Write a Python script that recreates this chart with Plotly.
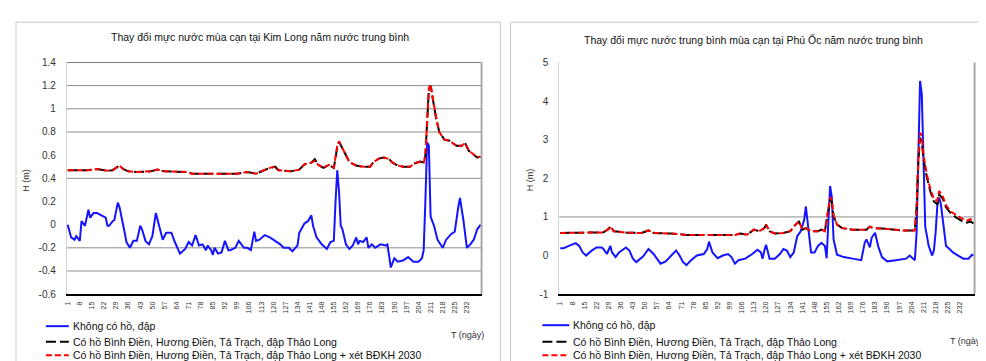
import plotly.graph_objects as go

# ---------------- DATA ----------------
x_tick_days = [1, 8, 15, 22, 29, 36, 43, 50, 57, 64, 71, 78, 85, 92, 99, 106, 113, 120,
               127, 134, 141, 148, 155, 162, 169, 176, 183, 190, 197, 204, 211, 218, 225, 232]

kl_yticks = [1.4, 1.2, 1.0, 0.8, 0.6, 0.4, 0.2, 0.0, -0.2, -0.4, -0.6]
kl_yticktext = ["1.4", "1.2", "1", "0.8", "0.6", "0.4", "0.2", "0", "-0.2", "-0.4", "-0.6"]
po_yticks = [5, 4, 3, 2, 1, 0, -1]
po_yticktext = ["5", "4", "3", "2", "1", "0", "-1"]

# Kim Long - no reservoirs (blue)
kl_blue_days = [1, 2, 3, 5, 6, 8, 9, 11, 13, 14, 16, 18, 21, 23, 24, 25, 27, 28, 30, 31,
                34, 35, 37, 39, 41, 43, 44, 46, 48, 50, 52, 54, 56, 58, 60, 61, 63, 66, 69, 71,
                73, 75, 77, 79, 81, 82, 84, 85, 86, 88, 90, 92, 94, 95, 98, 100, 103, 105, 107, 109,
                110, 112, 115, 118, 121, 124, 126, 129, 131, 134, 135, 138, 140, 142, 143, 145, 148, 151, 153, 155,
                156, 157, 158, 159, 160, 162, 164, 166, 168, 169, 170, 172, 174, 175, 177, 179, 182, 185, 186, 187,
                188, 190, 192, 195, 198, 201, 204, 206, 207, 208, 209, 210, 211, 213, 215, 218, 220, 223, 225, 227,
                228, 230, 232, 234, 236, 238, 240]
kl_blue = [0.00, -0.06, -0.11, -0.13, -0.10, -0.14, 0.03, -0.01, 0.13, 0.06, 0.10, 0.10, 0.08, 0.06, -0.01, -0.01, 0.03, 0.04, 0.19, 0.15,
           -0.07, -0.15, -0.20, -0.14, -0.14, -0.01, -0.04, -0.14, -0.17, -0.10, 0.10, -0.01, -0.13, -0.07, -0.07, -0.07, -0.15, -0.25, -0.21, -0.15,
           -0.18, -0.09, -0.18, -0.17, -0.22, -0.18, -0.22, -0.26, -0.20, -0.25, -0.24, -0.14, -0.22, -0.22, -0.20, -0.14, -0.20, -0.20, -0.22, -0.06,
           -0.14, -0.13, -0.09, -0.11, -0.14, -0.17, -0.20, -0.20, -0.23, -0.18, -0.07, 0.01, 0.03, 0.08, -0.01, -0.11, -0.17, -0.21, -0.15, -0.14,
           0.20, 0.47, 0.29, -0.01, -0.04, -0.17, -0.21, -0.18, -0.11, -0.17, -0.14, -0.15, -0.11, -0.20, -0.17, -0.20, -0.17, -0.18, -0.17, -0.29,
           -0.37, -0.29, -0.32, -0.31, -0.28, -0.32, -0.32, -0.29, -0.22, 0.21, 0.71, 0.68, 0.07, -0.01, -0.13, -0.20, -0.13, -0.08, -0.06, 0.15,
           0.23, 0.04, -0.20, -0.17, -0.13, -0.04, 0.00]

# Kim Long - with reservoirs (black) and with reservoirs + climate change 2030 (red)
kl_lake_days = [1, 3, 12, 18, 24, 27, 29, 31, 33, 36, 41, 49, 53, 57, 70, 73, 80, 99, 105, 110,
                114, 118, 121, 123, 130, 135, 138, 142, 144, 146, 149, 152, 155, 157, 158, 160, 162, 164, 168, 172,
                176, 178, 181, 184, 187, 189, 192, 195, 199, 202, 205, 207, 208, 209, 210, 211, 212, 214, 216, 219,
                222, 224, 226, 229, 231, 233, 236, 238, 240]
kl_black = [0.47, 0.47, 0.47, 0.48, 0.465, 0.47, 0.49, 0.51, 0.48, 0.46, 0.455, 0.46, 0.475, 0.46, 0.455, 0.44, 0.44, 0.44, 0.455, 0.44,
            0.465, 0.49, 0.50, 0.47, 0.46, 0.475, 0.52, 0.535, 0.566, 0.516, 0.49, 0.516, 0.49, 0.67, 0.717, 0.655, 0.60, 0.54, 0.51, 0.50,
            0.50, 0.54, 0.57, 0.58, 0.566, 0.535, 0.51, 0.50, 0.50, 0.53, 0.544, 0.535, 0.60, 0.85, 1.17, 1.20, 1.10, 0.935, 0.80, 0.734,
            0.725, 0.70, 0.68, 0.68, 0.705, 0.64, 0.60, 0.58, 0.585]
kl_red = [0.47, 0.47, 0.47, 0.48, 0.465, 0.47, 0.49, 0.51, 0.48, 0.46, 0.455, 0.46, 0.475, 0.46, 0.455, 0.44, 0.44, 0.44, 0.455, 0.44,
          0.465, 0.49, 0.50, 0.47, 0.46, 0.475, 0.52, 0.535, 0.55, 0.516, 0.49, 0.516, 0.49, 0.68, 0.72, 0.66, 0.60, 0.54, 0.51, 0.50,
          0.50, 0.54, 0.57, 0.58, 0.566, 0.535, 0.51, 0.50, 0.50, 0.53, 0.544, 0.535, 0.60, 0.86, 1.18, 1.21, 1.11, 0.94, 0.80, 0.734,
          0.725, 0.70, 0.68, 0.68, 0.705, 0.64, 0.60, 0.58, 0.585]

# Phu Oc - no reservoirs (blue)
po_blue_days = [1, 3, 6, 10, 12, 14, 16, 19, 22, 25, 26, 28, 30, 31, 33, 35, 39, 41, 43, 45,
                49, 52, 55, 59, 62, 65, 68, 70, 72, 74, 76, 80, 84, 86, 87, 89, 92, 95, 98, 100,
                102, 104, 108, 112, 115, 117, 118, 119, 120, 122, 125, 128, 130, 132, 134, 136, 138, 140, 142, 143,
                144, 146, 148, 150, 152, 154, 155, 156, 157, 158, 159, 161, 165, 170, 175, 177, 178, 180, 181, 183,
                185, 187, 190, 195, 201, 203, 205, 206, 207, 208, 209, 210, 211, 212, 214, 216, 217, 218, 219, 220,
                221, 223, 224, 226, 228, 231, 234, 237, 239, 240]
po_blue = [0.19, 0.19, 0.25, 0.32, 0.25, 0.08, 0.00, 0.12, 0.21, 0.21, 0.17, 0.04, 0.25, 0.08, -0.04, 0.08, 0.21, 0.13, -0.08, -0.17,
           -0.02, 0.17, 0.04, -0.21, -0.15, 0.00, 0.13, 0.00, -0.17, -0.25, -0.15, 0.00, 0.04, 0.17, 0.36, 0.08, -0.07, 0.00, 0.04, -0.04,
           -0.21, -0.12, -0.08, 0.04, 0.15, 0.08, -0.08, 0.13, 0.28, -0.08, -0.08, 0.04, 0.17, 0.13, -0.04, 0.08, 0.50, 0.63, 0.92, 1.27,
           0.84, 0.08, 0.08, 0.25, 0.33, 0.25, -0.07, 0.84, 1.80, 1.51, 0.42, 0.02, -0.04, -0.08, -0.12, 0.33, 0.42, 0.21, 0.46, 0.59,
           0.21, -0.04, -0.15, -0.12, -0.08, 0.00, -0.08, -0.12, 0.59, 2.76, 4.52, 4.18, 2.34, 0.75, 0.25, 0.00, 0.13, 0.60, 1.30, 1.50,
           1.34, 0.59, 0.25, 0.17, 0.08, 0.00, -0.08, -0.08, 0.02, 0.00]

# Phu Oc - with reservoirs (black) and with reservoirs + climate change 2030 (red)
po_lake_days = [1, 17, 26, 29, 30, 32, 40, 48, 52, 55, 65, 74, 94, 102, 105, 109, 113, 116, 119, 120,
                122, 125, 130, 134, 137, 139, 141, 143, 146, 150, 152, 154, 155, 157, 158, 159, 161, 164, 170, 178,
                180, 182, 190, 199, 206, 207, 208, 209, 210, 211, 213, 215, 217, 219, 220, 222, 224, 227, 230, 233,
                236, 238, 240]
po_black = [0.585, 0.585, 0.60, 0.69, 0.75, 0.63, 0.59, 0.585, 0.65, 0.585, 0.57, 0.535, 0.535, 0.535, 0.57, 0.54, 0.67, 0.63, 0.71, 0.80,
            0.63, 0.57, 0.585, 0.63, 0.80, 0.88, 0.67, 0.71, 0.63, 0.63, 0.67, 0.63, 0.92, 1.45, 1.38, 1.02, 0.80, 0.71, 0.67, 0.67,
            0.75, 0.71, 0.69, 0.65, 0.65, 1.25, 2.45, 3.05, 2.95, 2.50, 2.00, 1.65, 1.40, 1.33, 1.58, 1.48, 1.25, 1.08, 0.98, 0.90,
            0.85, 0.88, 0.83]
po_red = [0.585, 0.585, 0.60, 0.69, 0.75, 0.63, 0.59, 0.585, 0.65, 0.585, 0.57, 0.535, 0.535, 0.535, 0.57, 0.54, 0.67, 0.63, 0.71, 0.80,
          0.63, 0.57, 0.585, 0.63, 0.80, 0.88, 0.67, 0.71, 0.63, 0.63, 0.67, 0.63, 0.92, 1.51, 1.42, 1.05, 0.80, 0.71, 0.67, 0.67,
          0.75, 0.71, 0.69, 0.65, 0.65, 1.25, 2.51, 3.18, 3.09, 2.59, 2.09, 1.71, 1.46, 1.42, 1.67, 1.55, 1.30, 1.13, 1.05, 0.96,
          0.90, 0.94, 0.88]

title_kl = "Thay đổi mực nước mùa cạn tại Kim Long năm nước trung bình"
title_po = "Thay đổi mực nước trung bình mùa cạn tại Phú Ốc năm nước trung bình"
legend_names = ["Không có hồ, đập",
                "Có hồ Bình Điền, Hương Điền, Tả Trạch, đập Thảo Long",
                "Có hồ Bình Điền, Hương Điền, Tả Trạch, đập Thảo Long + xét BĐKH 2030"]
y_title = "H (m)"
x_title = "T (ngày)"

# ---------------- STYLE / LAYOUT ----------------
W, H = 986, 361
FONT = "Liberation Sans, Arial, sans-serif"
BLUE = "#1414ff"
BLACK = "#000000"
RED = "#ff0000"
BLACK_DASH = "10px,4px"
RED_DASH = "6px,3px"


def px(p):
    return p / W


def py(p):
    return 1 - p / H


fig = go.Figure()

panels = [
    dict(xa="x", ya="y", bd=kl_blue_days, b=kl_blue, ld=kl_lake_days, k=kl_black, r=kl_red),
    dict(xa="x2", ya="y2", bd=po_blue_days, b=po_blue, ld=po_lake_days, k=po_black, r=po_red),
]
for p in panels:
    fig.add_trace(go.Scatter(x=p["bd"], y=p["b"], mode="lines", name=legend_names[0],
                             line=dict(color=BLUE, width=2), xaxis=p["xa"], yaxis=p["ya"], showlegend=False))
    fig.add_trace(go.Scatter(x=p["ld"], y=p["k"], mode="lines", name=legend_names[1],
                             line=dict(color=BLACK, width=2, dash=BLACK_DASH), xaxis=p["xa"], yaxis=p["ya"], showlegend=False))
    fig.add_trace(go.Scatter(x=p["ld"], y=p["r"], mode="lines", name=legend_names[2],
                             line=dict(color=RED, width=2, dash=RED_DASH), xaxis=p["xa"], yaxis=p["ya"], showlegend=False))

xaxis_common = dict(range=[0.5, 240.5], tickmode="array", tickvals=x_tick_days,
                    ticktext=[str(d) for d in x_tick_days], tickangle=-90,
                    tickfont=dict(size=7, color="#333333", family=FONT), showgrid=False, zeroline=False,
                    showline=True, linecolor="#000000", linewidth=1.5, ticks="", fixedrange=True,
                    ticklabelstandoff=3)
yaxis_common = dict(showgrid=False, zeroline=False, showline=True, linecolor="#d4d4d4", linewidth=1,
                    ticks="", tickfont=dict(size=10, color="#333333", family=FONT), fixedrange=True,
                    ticklabelstandoff=8)

fig.update_layout(
    width=W, height=H,
    margin=dict(l=0, r=0, t=0, b=0),
    paper_bgcolor="white", plot_bgcolor="white",
    font=dict(family=FONT, color="#222222"),
    showlegend=False,
    xaxis=dict(domain=[px(56), px(472)], anchor="y", **xaxis_common),
    yaxis=dict(domain=[py(290), py(51)], anchor="x", range=[-0.6, 1.4], tickmode="array",
               tickvals=kl_yticks, ticktext=kl_yticktext, **yaxis_common),
    xaxis2=dict(domain=[px(550), px(966.5)], anchor="y2", **xaxis_common),
    yaxis2=dict(domain=[py(290), py(51)], anchor="x2", range=[-1, 5], tickmode="array",
                tickvals=po_yticks, ticktext=po_yticktext, **yaxis_common),
)

shapes = []
# panel frames
for x0, x1 in [(5, 491), (501, 984)]:
    shapes.append(dict(type="rect", xref="paper", yref="paper", x0=px(x0), x1=px(x1), y0=py(365), y1=py(9.5),
                       line=dict(color="#c8c8c8", width=1), fillcolor="rgba(0,0,0,0)", layer="below"))
# gridlines left
for v in [1.2, 1.0, 0.8, 0.4, -0.2, -0.4]:
    shapes.append(dict(type="line", xref="x domain", yref="y", x0=0, x1=1, y0=v, y1=v,
                       line=dict(color="#8c8c8c", width=1), layer="below"))
shapes.append(dict(type="line", xref="x domain", yref="y", x0=0, x1=1, y0=1.4, y1=1.4,
                   line=dict(color="#000000", width=1.2), layer="below"))
# gridline right
shapes.append(dict(type="line", xref="x2 domain", yref="y2", x0=0, x1=1, y0=1, y1=1,
                   line=dict(color="#8c8c8c", width=1), layer="below"))
# right borders of plot areas
shapes.append(dict(type="line", xref="x domain", yref="y domain", x0=1, x1=1, y0=0, y1=1,
                   line=dict(color="#a8a8a8", width=2)))
shapes.append(dict(type="line", xref="x2 domain", yref="y2 domain", x0=1, x1=1, y0=0, y1=1,
                   line=dict(color="#a8a8a8", width=2)))

annotations = []
# titles
annotations.append(dict(text=title_kl, xref="paper", yref="paper", x=px(250), y=py(25), showarrow=False,
                        font=dict(size=10.5, color="#111111", family=FONT), xanchor="center", yanchor="middle"))
annotations.append(dict(text=title_po, xref="paper", yref="paper", x=px(745), y=py(27), showarrow=False,
                        font=dict(size=10.5, color="#111111", family=FONT), xanchor="center", yanchor="middle"))
# y titles
for xp in [15, 520]:
    annotations.append(dict(text=y_title, xref="paper", yref="paper", x=px(xp), y=py(172), showarrow=False,
                            textangle=-90, font=dict(size=9, color="#333333", family=FONT),
                            xanchor="center", yanchor="middle"))
# x titles
annotations.append(dict(text=x_title, xref="paper", yref="paper", x=px(476), y=py(332), showarrow=False,
                        font=dict(size=9, color="#333333", family=FONT), xanchor="right", yanchor="middle"))
annotations.append(dict(text=x_title, xref="paper", yref="paper", x=px(977), y=py(338), showarrow=False,
                        font=dict(size=9, color="#333333", family=FONT), xanchor="right", yanchor="middle"))

# manual legends (one under each chart)
legend_styles = [(BLUE, None), (BLACK, BLACK_DASH), (RED, RED_DASH)]
for (sx0, sx1, tx, rows) in [(35, 58, 60, [323, 339, 353]), (533, 560, 562, [322, 339, 353])]:
    for (col, dash), name, ry in zip(legend_styles, legend_names, rows):
        ln = dict(color=col, width=2)
        if dash:
            ln["dash"] = dash
        shapes.append(dict(type="line", xref="paper", yref="paper", x0=px(sx0), x1=px(sx1),
                           y0=py(ry), y1=py(ry), line=ln))
        annotations.append(dict(text=name, xref="paper", yref="paper", x=px(tx), y=py(ry), showarrow=False,
                                font=dict(size=10.5, color="#111111", family=FONT),
                                xanchor="left", yanchor="middle"))

fig.update_layout(shapes=shapes, annotations=annotations)

fig.write_html("out.html")
